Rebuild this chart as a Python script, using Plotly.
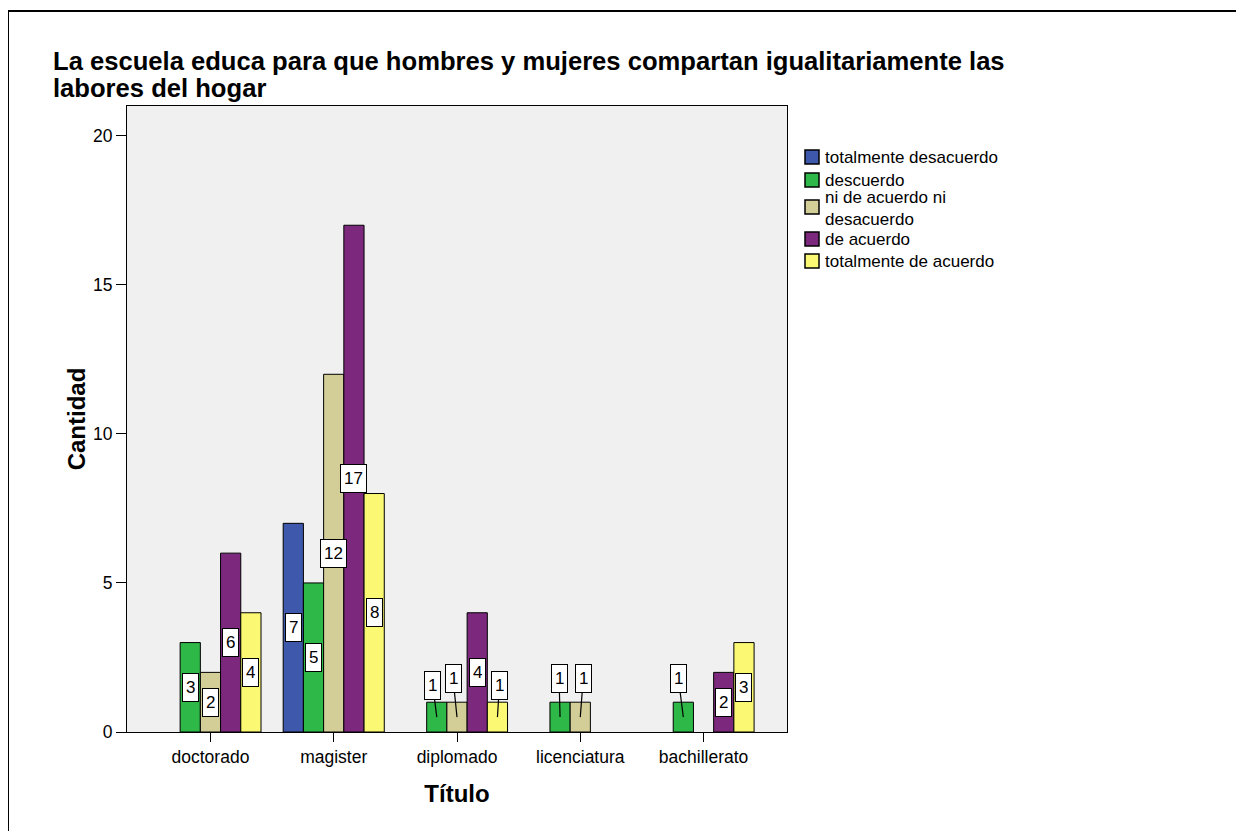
import plotly.graph_objects as go

categories = ["doctorado", "magister", "diplomado", "licenciatura", "bachillerato"]
series_names = [
    "totalmente desacuerdo",
    "descuerdo",
    "ni de acuerdo ni<br>desacuerdo",
    "de acuerdo",
    "totalmente de acuerdo",
]
totalmente_desacuerdo = [0, 7, 0, 0, 0]
descuerdo = [3, 5, 1, 1, 1]
ni_ni = [2, 12, 1, 1, 0]
de_acuerdo = [6, 17, 4, 0, 2]
totalmente_de_acuerdo = [4, 8, 1, 0, 3]
series_values = [totalmente_desacuerdo, descuerdo, ni_ni, de_acuerdo, totalmente_de_acuerdo]

title_lines = ["La escuela educa para que hombres y mujeres compartan igualitariamente las",
               "labores del hogar"]
y_ticks = [0, 5, 10, 15, 20]

# styles
colors = ["#3E58AC", "#2EB848", "#D3CE97", "#7C287D", "#FBF873"]
FONT = "Liberation Sans, Arial, sans-serif"
BARGAP = 0.18
# pixel offsets (ax, ay) of labels placed above small bars: (category index, series index)
callout_offsets = {
    (2, 1): (-4, -32), (2, 2): (-4, -39), (2, 4): (2, -32),
    (3, 1): (-1, -39), (3, 2): (3, -39),
    (4, 1): (-5, -39),
}
# legend layout (reference pixel rows): swatch centre and text centre per item
legend_swatch_rows = [157, 180, 207, 239, 261]
legend_text_rows = [157, 180, 208, 239, 261]

fig = go.Figure()
for name, vals, col in zip(series_names, series_values, colors):
    fig.add_trace(go.Bar(
        x=categories, y=[v if v else None for v in vals], name=name.replace("<br>", " "),
        marker=dict(color=col, line=dict(color="black", width=1)),
        hoverinfo="x+y+name", showlegend=False,
    ))

n = len(series_names)
bw = (1 - BARGAP) / n
annotations = []
for si, vals in enumerate(series_values):
    for ci, v in enumerate(vals):
        if not v:
            continue
        xpos = ci - (1 - BARGAP) / 2 + (si + 0.5) * bw
        base = dict(x=xpos, y=v / 2, xref="x", yref="y", text=str(v),
                    font=dict(family=FONT, size=17, color="black"), height=21,
                    bgcolor="white", bordercolor="black", borderwidth=1, borderpad=3)
        if (ci, si) in callout_offsets:
            ax, ay = callout_offsets[(ci, si)]
            base.update(showarrow=True, ax=ax, ay=ay, arrowhead=0, arrowwidth=1.2,
                        arrowcolor="black", standoff=0, startstandoff=0)
        else:
            base.update(showarrow=False)
        annotations.append(base)

# page offset of the browser (body margin) compensated
OFF = 8
W, H = 1244, 831
L, R, T, B = 127 - OFF, 787 - OFF, 106 - OFF, 732 - OFF
pw, ph = R - L, B - T


def px(xp):
    return (xp - OFF - L) / pw


def py(yp):
    return (B - (yp - OFF)) / ph


for txt, yc in zip(title_lines, [61, 88]):
    annotations.append(dict(text=txt, xref="paper", yref="paper", x=px(51), y=py(yc),
                            xanchor="left", yanchor="middle", showarrow=False,
                            font=dict(family=FONT, size=25.6, color="black", weight="bold")))

shapes = [
    dict(type="line", xref="paper", yref="paper", x0=px(8), x1=px(1300), y0=py(11), y1=py(11),
         line=dict(color="black", width=2)),
    dict(type="line", xref="paper", yref="paper", x0=px(8), x1=px(8), y0=py(11), y1=py(900),
         line=dict(color="black", width=2)),
]

# legend drawn as swatches + text
for name, col, srow, trow in zip(series_names, colors, legend_swatch_rows, legend_text_rows):
    shapes.append(dict(type="rect", xref="paper", yref="paper",
                       x0=px(805), x1=px(819), y0=py(srow + 7), y1=py(srow - 7),
                       fillcolor=col, line=dict(color="black", width=1.5)))
    annotations.append(dict(text=name, xref="paper", yref="paper", x=px(823), y=py(trow),
                            xanchor="left", yanchor="middle", align="left", showarrow=False,
                            font=dict(family=FONT, size=17, color="black")))

fig.update_layout(
    width=W, height=H,
    margin=dict(l=L, r=W - R, t=T, b=H - B, autoexpand=False),
    paper_bgcolor="white", plot_bgcolor="#F0F0F0",
    barmode="group", bargap=BARGAP, bargroupgap=0,
    font=dict(family=FONT, size=17, color="black"),
    showlegend=False,
    xaxis=dict(type="category", range=[-0.677, 4.677], showline=True, mirror=True,
               linecolor="black", linewidth=1, ticks="outside", ticklen=9, tickcolor="black",
               tickfont=dict(size=17.5), showgrid=False,
               title=dict(text="Título", font=dict(size=24, weight="bold"), standoff=19)),
    yaxis=dict(range=[0, 21.0], tickvals=y_ticks, showline=True, mirror=True,
               linecolor="black", linewidth=1, ticks="outside", ticklen=10, tickcolor="black",
               tickfont=dict(size=17.5), showgrid=False, zeroline=False,
               title=dict(text="Cantidad", font=dict(size=24, weight="bold"), standoff=0)),
    annotations=annotations,
    shapes=shapes,
)

fig.write_html("out.html")
